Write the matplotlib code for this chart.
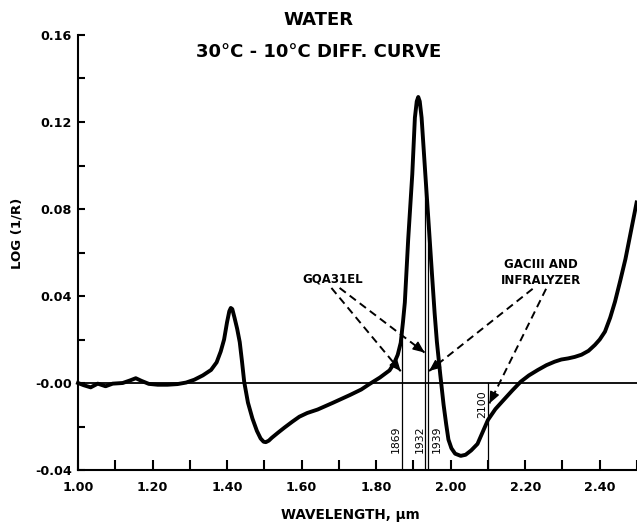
import numpy as np
import matplotlib
matplotlib.use('Agg')
import matplotlib.pyplot as plt
from matplotlib.ticker import MultipleLocator, FixedLocator, FixedFormatter

# wavelength (um) and 30C-10C difference in log(1/R)
wavelength = [1.000, 1.015, 1.034, 1.053, 1.074, 1.093, 1.120, 1.140, 1.155, 1.170,
              1.190, 1.214, 1.240, 1.267, 1.290, 1.312, 1.335, 1.357, 1.372, 1.383,
              1.392, 1.400, 1.406, 1.410, 1.414, 1.420, 1.427, 1.434, 1.440, 1.446,
              1.456, 1.468, 1.480, 1.490, 1.498, 1.504, 1.512, 1.520, 1.537, 1.554,
              1.575, 1.594, 1.615, 1.643, 1.684, 1.730, 1.760, 1.782, 1.810, 1.836,
              1.848, 1.858, 1.866, 1.872, 1.877, 1.886, 1.897, 1.904, 1.909, 1.913,
              1.917, 1.922, 1.932, 1.941, 1.950, 1.957, 1.963, 1.972, 1.981, 1.988,
              1.994, 2.002, 2.012, 2.027, 2.040, 2.055, 2.072, 2.086, 2.100, 2.120,
              2.140, 2.165, 2.188, 2.210, 2.234, 2.257, 2.279, 2.297, 2.315, 2.333,
              2.351, 2.370, 2.387, 2.400, 2.414, 2.428, 2.441, 2.455, 2.469, 2.484,
              2.499]
log_diff = [0.0000, -0.0010, -0.0020, -0.0003, -0.0015, -0.0003, 0.0000, 0.0012, 0.0022, 0.0010,
            -0.0004, -0.0008, -0.0008, -0.0005, 0.0002, 0.0015, 0.0035, 0.0060, 0.0095, 0.0145,
            0.0200, 0.0280, 0.0330, 0.0345, 0.0340, 0.0300, 0.0250, 0.0188, 0.0100, 0.0005,
            -0.0090, -0.0163, -0.0220, -0.0255, -0.0270, -0.0272, -0.0265, -0.0252, -0.0228, -0.0205,
            -0.0178, -0.0155, -0.0138, -0.0122, -0.0091, -0.0055, -0.0030, -0.0005, 0.0025, 0.0058,
            0.0090, 0.0130, 0.0185, 0.0280, 0.0370, 0.0660, 0.0960, 0.1220, 0.1295, 0.1315,
            0.1295, 0.1220, 0.0960, 0.0730, 0.0497, 0.0320, 0.0190, 0.0040, -0.0100, -0.0190,
            -0.0260, -0.0300, -0.0325, -0.0335, -0.0330, -0.0310, -0.0280, -0.0225, -0.0170, -0.0120,
            -0.0082, -0.0035, 0.0006, 0.0035, 0.0060, 0.0082, 0.0098, 0.0108, 0.0113, 0.0120,
            0.0130, 0.0148, 0.0175, 0.0200, 0.0236, 0.0300, 0.0374, 0.0470, 0.0570, 0.0700,
            0.0830]

# filter wavelengths marked on the chart
filter_wl = [1.869, 1.932, 1.939, 2.100]
filter_lbl = ['1869', '1932', '1939', '2100']
filter_lbl_x = [1.853, 1.917, 1.963, 2.085]
filter_lbl_y = [-0.026, -0.026, -0.026, -0.0095]

# dashed arrows: (start, head)
gqa_arrows = [((1.680, 0.0437), (1.866, 0.0054)),
              ((1.702, 0.0437), (1.930, 0.0140))]
gac_arrows = [((2.220, 0.0433), (1.942, 0.0055)),
              ((2.256, 0.0433), (2.104, -0.0094))]

plt.rcParams['font.family'] = 'DejaVu Sans'

fig = plt.figure(figsize=(6.37, 5.22), dpi=100)
ax = fig.add_axes([78/637, 52/522, 559/637, 435/522])

ax.plot(wavelength, log_diff, color='k', lw=2.8, solid_joinstyle='round', clip_on=False)
ax.plot([1.0, 2.5], [0, 0], color='k', lw=1.3)

# vertical filter lines, up to the curve (2100 only up to zero)
tops = np.interp(filter_wl, wavelength, log_diff)
tops[-1] = 0.0
for x, t in zip(filter_wl, tops):
    ax.plot([x, x], [-0.04, t], color='k', lw=0.9)
for lbl, x, y in zip(filter_lbl, filter_lbl_x, filter_lbl_y):
    ax.text(x, y, lbl, rotation=90, ha='center', va='center', fontsize=7.8)

# dashed annotation arrows
for (x0, y0), (x1, y1) in gqa_arrows + gac_arrows:
    ax.plot([x0, x1], [y0, y1], color='k', lw=1.4, ls=(0, (4, 2.5)))
    dx, dy = x1 - x0, y1 - y0
    ax.annotate('', xy=(x1, y1), xytext=(x1 - dx * 0.02, y1 - dy * 0.02),
                arrowprops=dict(arrowstyle='-|>,head_length=0.7,head_width=0.3',
                                color='k', lw=1.0, shrinkA=0, shrinkB=0))

ax.text(1.684, 0.048, 'GQA31EL', ha='center', va='center', fontsize=8.5, fontweight='bold')
ax.text(2.242, 0.0543, 'GACIII AND', ha='center', va='center', fontsize=8.5, fontweight='bold')
ax.text(2.242, 0.0473, 'INFRALYZER', ha='center', va='center', fontsize=8.5, fontweight='bold')

ax.set_xlim(1.0, 2.5)
ax.set_ylim(-0.04, 0.16)
for s in ['top', 'right']:
    ax.spines[s].set_visible(False)
for s in ['left', 'bottom']:
    ax.spines[s].set_linewidth(1.5)

xt = [1.0, 1.2, 1.4, 1.6, 1.8, 2.0, 2.2, 2.4]
ax.xaxis.set_major_locator(FixedLocator(xt))
ax.xaxis.set_major_formatter(FixedFormatter(['%.2f' % v for v in xt]))
ax.xaxis.set_minor_locator(MultipleLocator(0.1))
yt = [-0.04, 0.0, 0.04, 0.08, 0.12, 0.16]
ax.yaxis.set_major_locator(FixedLocator(yt))
ax.yaxis.set_major_formatter(FixedFormatter(['-0.04', '-0.00', '0.04', '0.08', '0.12', '0.16']))
ax.yaxis.set_minor_locator(MultipleLocator(0.02))

ax.tick_params(axis='x', which='both', direction='in', length=7, width=1.5, pad=8)
ax.tick_params(axis='y', which='both', direction='in', length=5, width=1.5, pad=4.5)
for lab in ax.get_xticklabels() + ax.get_yticklabels():
    lab.set_fontsize(9.2)
    lab.set_fontweight('bold')

ax.set_xlabel('WAVELENGTH, µm', fontsize=9.8, fontweight='bold', va='top')
ax.xaxis.set_label_coords(0.487, -0.087)
fig.text(17/637, 1 - 233/522, 'LOG (1/R)', rotation=90, ha='center', va='center',
         fontsize=9.5, fontweight='bold')

fig.text(0.5, 1 - 20/522, 'WATER', ha='center', va='center', fontsize=13, fontweight='bold')
fig.text(0.5, 1 - 52/522, '30°C - 10°C DIFF. CURVE', ha='center', va='center',
         fontsize=13, fontweight='bold')

fig.savefig('out.png', dpi=100)
